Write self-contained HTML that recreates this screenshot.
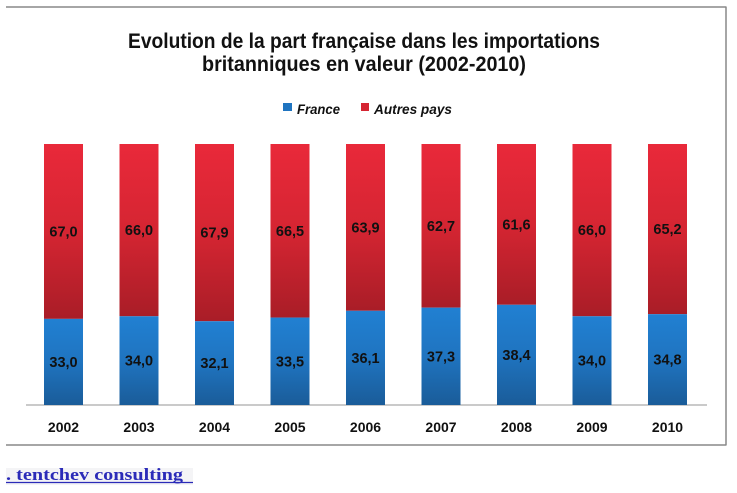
<!DOCTYPE html>
<html><head><meta charset="utf-8"><style>
html,body{margin:0;padding:0;background:#fff;}
svg{display:block;}
</style></head><body>
<svg width="737" height="493" viewBox="0 0 737 493" xmlns="http://www.w3.org/2000/svg">
<defs>
<linearGradient id="r" x1="0" y1="0" x2="0" y2="1">
<stop offset="0" stop-color="#e9293a"/><stop offset="0.5" stop-color="#d52532"/><stop offset="1" stop-color="#a91d27"/>
</linearGradient>
<linearGradient id="b" x1="0" y1="0" x2="0" y2="1">
<stop offset="0" stop-color="#2180d2"/><stop offset="0.5" stop-color="#1f74c0"/><stop offset="1" stop-color="#1a5c99"/>
</linearGradient>
</defs>
<rect width="737" height="493" fill="#fff"/>
<g stroke="#888" stroke-width="1.5" fill="none">
<line x1="6" y1="7" x2="726.5" y2="7"/>
<line x1="726" y1="7" x2="726" y2="445"/>
<line x1="6" y1="445" x2="726.5" y2="445"/>
</g>
<g font-family="Liberation Sans, sans-serif" font-weight="bold" fill="#111">
<text x="128" y="48" font-size="21" textLength="472" lengthAdjust="spacingAndGlyphs">Evolution de la part française dans les importations</text>
<text x="202" y="71" font-size="21" textLength="324" lengthAdjust="spacingAndGlyphs">britanniques en valeur (2002-2010)</text>
</g>
<rect x="283" y="103" width="9" height="8" fill="#1f74c0"/>
<rect x="361" y="103" width="8" height="8" fill="#d52532"/>
<g font-family="Liberation Sans, sans-serif" font-weight="bold" font-style="italic" font-size="14" fill="#111">
<text x="297" y="114" textLength="43" lengthAdjust="spacingAndGlyphs">France</text>
<text x="374" y="114" textLength="78" lengthAdjust="spacingAndGlyphs">Autres pays</text>
</g>
<line x1="26" y1="405" x2="707" y2="405" stroke="#b8b8b8" stroke-width="1.5"/>
<g>
<rect x="44" y="144" width="39" height="174.87" fill="url(#r)"/><rect x="44" y="318.87" width="39" height="86.13" fill="url(#b)"/>
<rect x="119.5" y="144" width="39" height="172.26" fill="url(#r)"/><rect x="119.5" y="316.26" width="39" height="88.74" fill="url(#b)"/>
<rect x="195" y="144" width="39" height="177.22" fill="url(#r)"/><rect x="195" y="321.22" width="39" height="83.78" fill="url(#b)"/>
<rect x="270.5" y="144" width="39" height="173.57" fill="url(#r)"/><rect x="270.5" y="317.57" width="39" height="87.43" fill="url(#b)"/>
<rect x="346" y="144" width="39" height="166.78" fill="url(#r)"/><rect x="346" y="310.78" width="39" height="94.22" fill="url(#b)"/>
<rect x="421.5" y="144" width="39" height="163.65" fill="url(#r)"/><rect x="421.5" y="307.65" width="39" height="97.35" fill="url(#b)"/>
<rect x="497" y="144" width="39" height="160.78" fill="url(#r)"/><rect x="497" y="304.78" width="39" height="100.22" fill="url(#b)"/>
<rect x="572.5" y="144" width="39" height="172.26" fill="url(#r)"/><rect x="572.5" y="316.26" width="39" height="88.74" fill="url(#b)"/>
<rect x="648" y="144" width="39" height="170.17" fill="url(#r)"/><rect x="648" y="314.17" width="39" height="90.83" fill="url(#b)"/>
</g>
<g font-family="Liberation Sans, sans-serif" font-weight="bold" font-size="14.5" fill="#111" text-anchor="middle">
<text x="63.5" y="236.4">67,0</text><text x="63.5" y="367">33,0</text>
<text x="139" y="235">66,0</text><text x="139" y="365.6">34,0</text>
<text x="214.5" y="237.6">67,9</text><text x="214.5" y="368.1">32,1</text>
<text x="290" y="235.8">66,5</text><text x="290" y="366.3">33,5</text>
<text x="365.5" y="232.4">63,9</text><text x="365.5" y="362.9">36,1</text>
<text x="441" y="230.8">62,7</text><text x="441" y="361.3">37,3</text>
<text x="516.5" y="229.4">61,6</text><text x="516.5" y="359.9">38,4</text>
<text x="592" y="235.1">66,0</text><text x="592" y="365.6">34,0</text>
<text x="667.5" y="234.1">65,2</text><text x="667.5" y="364.6">34,8</text>
</g>
<g font-family="Liberation Sans, sans-serif" font-weight="bold" font-size="14" fill="#111" text-anchor="middle">
<text x="63.5" y="432">2002</text><text x="139" y="432">2003</text><text x="214.5" y="432">2004</text>
<text x="290" y="432">2005</text><text x="365.5" y="432">2006</text><text x="441" y="432">2007</text>
<text x="516.5" y="432">2008</text><text x="592" y="432">2009</text><text x="667.5" y="432">2010</text>
</g>
<rect x="6" y="468" width="187" height="17" fill="#f4f4f6"/>
<text x="6" y="480" font-family="Liberation Serif, serif" font-weight="bold" font-size="16.5" fill="#2b2bb8" textLength="177" lengthAdjust="spacingAndGlyphs">. tentchev consulting</text>
<line x1="6" y1="482.5" x2="193" y2="482.5" stroke="#2b2bb8" stroke-width="1.2"/>
</svg>
</body></html>
